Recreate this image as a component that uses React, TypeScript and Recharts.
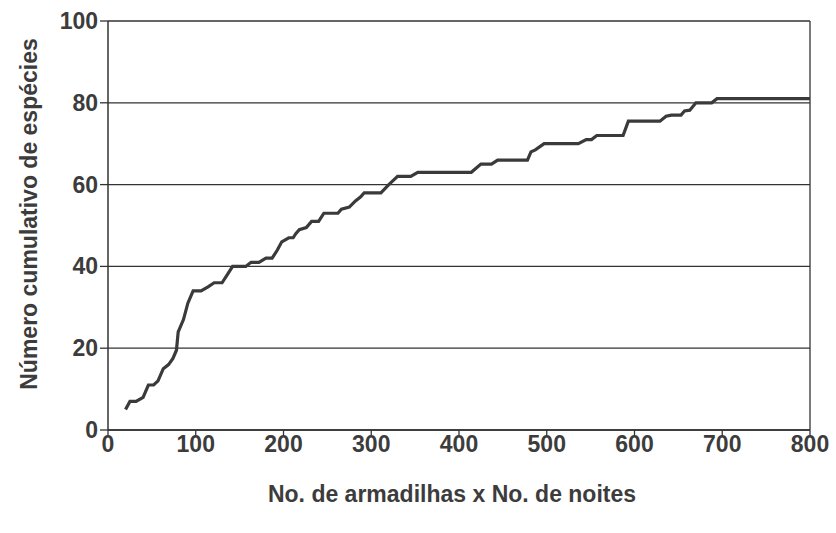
import React from 'react';
import { LineChart, Line, XAxis, YAxis, CartesianGrid, ReferenceLine } from 'recharts';

// esforço (armadilhas x noites) e número cumulativo de espécies
const esforco = [
  20, 25, 32, 40, 46, 52, 57, 63, 69, 74, 78, 80, 86, 91, 97, 106, 114, 121, 130, 136,
  142, 157, 163, 172, 180, 187, 193, 198, 206, 211, 214, 218, 226, 232, 240, 246, 262, 266,
  275, 282, 288, 292, 311, 320, 330, 345, 353, 414, 425, 437, 444, 478, 482, 487, 497, 536,
  545, 551, 557, 587, 593, 629, 636, 642, 653, 657, 663, 670, 688, 694, 800,
];
const especies = [
  5, 7, 7, 8, 11, 11, 12, 15, 16, 17.5, 19.5, 24, 27, 31, 34, 34, 35, 36, 36, 38,
  40, 40, 41, 41, 42, 42, 44, 46, 47, 47, 48, 49, 49.5, 51, 51, 53, 53, 54,
  54.5, 56, 57, 58, 58, 60, 62, 62, 63, 63, 65, 65, 66, 66, 68, 68.5, 70, 70,
  71, 71, 72, 72, 75.5, 75.5, 76.7, 77, 77, 78, 78.2, 80, 80, 81, 81,
];
const xTicks = [0, 100, 200, 300, 400, 500, 600, 700, 800];
const yTicks = [0, 20, 40, 60, 80, 100];

const data = esforco.map((x, i) => ({ x, y: especies[i] }));

const FONT = '"Liberation Sans", Arial, sans-serif';
const INK = '#333';

function XTick(props: any) {
  const { x, y, payload } = props;
  return (
    <text x={x} y={y + 17} textAnchor="middle" fontFamily={FONT} fontSize={23} fontWeight="bold" fill="#3c3c3c">
      {payload.value}
    </text>
  );
}

function YTick(props: any) {
  const { x, y, payload } = props;
  return (
    <text x={x} y={y + 8} textAnchor="end" fontFamily={FONT} fontSize={23} fontWeight="bold" fill="#3c3c3c">
      {payload.value}
    </text>
  );
}

export default function App() {
  return (
    <div style={{ position: 'absolute', left: 0, top: 0, background: '#fff' }}>
      <LineChart width={836} height={533} data={data} margin={{ top: 21, right: 26, left: 0, bottom: 0 }}>
        <CartesianGrid vertical={false} stroke={INK} strokeWidth={1.3} horizontalValues={yTicks} />
        <XAxis
          dataKey="x"
          type="number"
          domain={[0, 800]}
          ticks={xTicks}
          height={103}
          tickSize={5}
          tickMargin={0}
          tick={<XTick />}
          axisLine={{ stroke: INK, strokeWidth: 1.5 }}
          tickLine={{ stroke: INK, strokeWidth: 1.3 }}
          label={{
            content: () => (
              <text x={452} y={502} textAnchor="middle" fontFamily={FONT} fontSize={23} fontWeight="bold" fill="#3c3c3c">
                No. de armadilhas x No. de noites
              </text>
            ),
          }}
        />
        <YAxis
          type="number"
          domain={[0, 100]}
          ticks={yTicks}
          width={108}
          tickSize={8}
          tickMargin={2}
          tick={<YTick />}
          axisLine={{ stroke: INK, strokeWidth: 1.5 }}
          tickLine={{ stroke: INK, strokeWidth: 1.3 }}
          label={{
            content: () => (
              <text
                transform="translate(37,214) rotate(-90)"
                textAnchor="middle"
                fontFamily={FONT}
                fontSize={23}
                fontWeight="bold"
                fill="#3c3c3c"
              >
                Número cumulativo de espécies
              </text>
            ),
          }}
        />
        <ReferenceLine x={800} stroke={INK} strokeWidth={1.3} />
        <Line
          type="linear"
          dataKey="y"
          stroke="#3a3a3a"
          strokeWidth={3.2}
          dot={false}
          isAnimationActive={false}
        />
      </LineChart>
    </div>
  );
}
